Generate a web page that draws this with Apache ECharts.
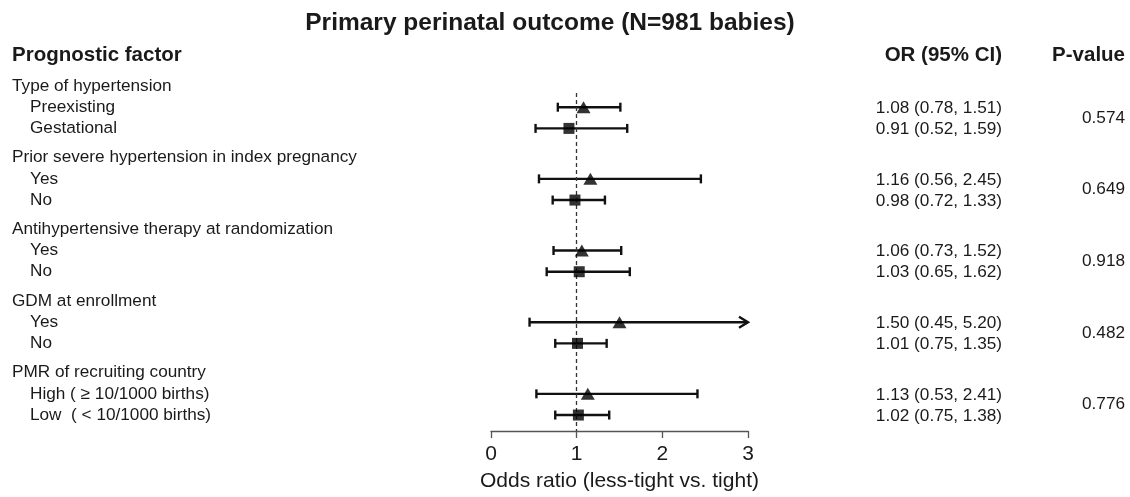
<!DOCTYPE html>
<html><head><meta charset="utf-8">
<script src="https://cdn.jsdelivr.net/npm/echarts@6/dist/echarts.min.js"></script>
<style>html,body{margin:0;padding:0;background:#fff}#c{width:1130px;height:497px}</style>
</head><body><div id="c"></div>
<script>
const chartTitle = "Primary perinatal outcome (N=981 babies)";
const colHeaders = ["Prognostic factor", "OR (95% CI)", "P-value"];
const groupLabels = [
  "Type of hypertension",
  "Prior severe hypertension in index pregnancy",
  "Antihypertensive therapy at randomization",
  "GDM at enrollment",
  "PMR of recruiting country"
];
const itemLabels = [
  ["Preexisting", "Gestational"],
  ["Yes", "No"],
  ["Yes", "No"],
  ["Yes", "No"],
  ["High ( \u2265 10/1000 births)", "Low  ( < 10/1000 births)"]
];
const orValues = [1.08, 0.91, 1.16, 0.98, 1.06, 1.03, 1.50, 1.01, 1.13, 1.02];
const ciLower  = [0.78, 0.52, 0.56, 0.72, 0.73, 0.65, 0.45, 0.75, 0.53, 0.75];
const ciUpper  = [1.51, 1.59, 2.45, 1.33, 1.52, 1.62, 5.20, 1.35, 2.41, 1.38];
const pValues  = ["0.574", "0.649", "0.918", "0.482", "0.776"];
const xTicks = [0, 1, 2, 3];
const axisTitle = "Odds ratio (less-tight vs. tight)";

const FONT = "'Liberation Sans', Arial, Helvetica, sans-serif";
const TXT = '#1a1a1a';
const GROUP_STEP = 3.38;
const X_MAX = xTicks[xTicks.length - 1];

const items = [];
itemLabels.forEach((pair, gi) => pair.forEach((lab, k) => {
  const idx = gi * 2 + k;
  items.push({pos: gi * GROUP_STEP + k + 1, label: lab, or: orValues[idx], lo: ciLower[idx], hi: ciUpper[idx], shape: k === 0 ? 'triangle' : 'rect'});
}));
const headers = groupLabels.map((g, gi) => ({pos: gi * GROUP_STEP, label: g, p: pValues[gi], pPos: gi * GROUP_STEP + 1.5}));

const leftText = headers.map(h => ({pos: h.pos, label: h.label, indent: false}))
  .concat(items.map(it => ({pos: it.pos, label: it.label, indent: true})));

function textEl(x, y, text, font, align) {
  return {type: 'text', style: {x: x, y: y, text: text, font: font, fill: TXT,
    align: align, textAlign: align, verticalAlign: 'middle', textVerticalAlign: 'middle'}};
}

const chart = echarts.init(document.getElementById('c'), null, {renderer: 'canvas'});
const option = {
  animation: false,
  backgroundColor: '#fff',
  grid: {left: 491, right: 382, top: 93, bottom: 66},
  xAxis: {
    type: 'value', min: 0, max: X_MAX, interval: 1,
    axisLine: {show: true, lineStyle: {color: '#555', width: 1.3}},
    axisTick: {show: true, inside: false, length: 7, lineStyle: {color: '#555', width: 1.3}},
    axisLabel: {fontSize: 21, color: TXT, fontFamily: FONT, margin: 13},
    splitLine: {show: false},
    name: axisTitle, nameLocation: 'middle', nameGap: 40,
    nameTextStyle: {fontSize: 21, color: TXT, fontFamily: FONT}
  },
  yAxis: {type: 'value', inverse: true, min: 0.33, max: 16.273, show: false},
  graphic: [
    {type: 'text', x: 550, y: 23, style: {text: chartTitle, font: 'bold 24.5px ' + FONT, fill: TXT, align: 'center', textAlign: 'center', verticalAlign: 'middle', textVerticalAlign: 'middle'}},
    {type: 'text', x: 12, y: 55, style: {text: colHeaders[0], font: 'bold 20.5px ' + FONT, fill: TXT, align: 'left', textAlign: 'left', verticalAlign: 'middle', textVerticalAlign: 'middle'}},
    {type: 'text', x: 1002, y: 55, style: {text: colHeaders[1], font: 'bold 20.5px ' + FONT, fill: TXT, align: 'right', textAlign: 'right', verticalAlign: 'middle', textVerticalAlign: 'middle'}},
    {type: 'text', x: 1125, y: 55, style: {text: colHeaders[2], font: 'bold 20.5px ' + FONT, fill: TXT, align: 'right', textAlign: 'right', verticalAlign: 'middle', textVerticalAlign: 'middle'}}
  ],
  series: [
    {
      type: 'custom', clip: false, silent: true,
      data: leftText.map(t => [0, t.pos]),
      renderItem: (params, api) => {
        const t = leftText[params.dataIndex];
        const p = api.coord([0, t.pos]);
        return textEl(t.indent ? 30 : 12, p[1], t.label, '17.2px ' + FONT, 'left');
      }
    },
    {
      type: 'custom', clip: false, silent: true,
      data: items.map(it => [0, it.pos]),
      renderItem: (params, api) => {
        const it = items[params.dataIndex];
        const p = api.coord([0, it.pos]);
        const s = it.or.toFixed(2) + ' (' + it.lo.toFixed(2) + ', ' + it.hi.toFixed(2) + ')';
        return textEl(1002, p[1] + 1, s, '17.2px ' + FONT, 'right');
      }
    },
    {
      type: 'custom', clip: false, silent: true,
      data: headers.map(h => [0, h.pPos]),
      renderItem: (params, api) => {
        const h = headers[params.dataIndex];
        const p = api.coord([0, h.pPos]);
        return textEl(1125, p[1], h.p, '17.2px ' + FONT, 'right');
      }
    },
    {
      type: 'custom', clip: false, silent: true,
      data: items.map(it => [it.lo, it.hi, it.pos]),
      encode: {x: [0, 1], y: 2},
      renderItem: (params, api) => {
        const lo = api.value(0), hi = api.value(1), y = api.value(2);
        const a = api.coord([lo, y]);
        const b = api.coord([Math.min(hi, X_MAX), y]);
        const st = {stroke: '#111', lineWidth: 2.4, fill: null};
        const ch = [
          {type: 'line', shape: {x1: a[0], y1: a[1], x2: b[0], y2: b[1]}, style: st},
          {type: 'line', shape: {x1: a[0], y1: a[1] - 4.5, x2: a[0], y2: a[1] + 4.5}, style: st}
        ];
        if (hi > X_MAX) {
          ch.push({type: 'polyline', shape: {points: [[b[0] - 9, b[1] - 5.5], [b[0], b[1]], [b[0] - 9, b[1] + 5.5]]}, style: st});
        } else {
          ch.push({type: 'line', shape: {x1: b[0], y1: b[1] - 4.5, x2: b[0], y2: b[1] + 4.5}, style: st});
        }
        return {type: 'group', children: ch};
      },
      markLine: {
        silent: true, symbol: 'none', label: {show: false},
        lineStyle: {color: '#333', type: [4, 3], width: 1.3},
        data: [{xAxis: 1}]
      }
    },
    {
      type: 'scatter', symbol: 'triangle', symbolSize: [14, 12],
      itemStyle: {color: '#000'}, silent: true, z: 5,
      data: items.filter(it => it.shape === 'triangle').map(it => [it.or, it.pos])
    },
    {
      type: 'scatter', symbol: 'rect', symbolSize: [11, 11],
      itemStyle: {color: '#000'}, silent: true, z: 5,
      data: items.filter(it => it.shape === 'rect').map(it => [it.or, it.pos])
    }
  ]
};
chart.setOption(option);
</script>
</body></html>
